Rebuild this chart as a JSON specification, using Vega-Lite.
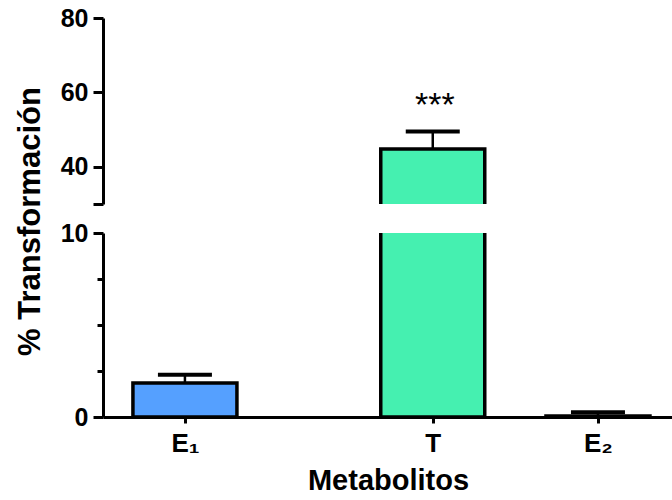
{
  "$schema": "https://vega.github.io/schema/vega-lite/v6.json",
  "padding": {"left": 14, "top": 6, "right": 0, "bottom": 0},
  "background": "white",
  "bounds": "flush",
  "config": {
    "view": {"stroke": null},
    "font": "Liberation Sans",
    "axis": {
      "domainColor": "black",
      "domainWidth": 3,
      "tickColor": "black",
      "tickWidth": 3,
      "labelColor": "black",
      "labelFont": "Liberation Sans",
      "labelFontWeight": "bold",
      "titleColor": "black",
      "titleFont": "Liberation Sans",
      "titleFontWeight": "bold",
      "grid": false
    }
  },
  "data": {
    "values": [
      {"met": "E₁", "mean": 1.85, "upper": 2.3, "sig": ""},
      {"met": "T", "mean": 44.8, "upper": 49.5, "sig": "***"},
      {"met": "E₂", "mean": 0.05, "upper": 0.26, "sig": ""}
    ]
  },
  "spacing": 29,
  "resolve": {"scale": {"x": "shared"}},
  "vconcat": [
    {
      "width": 570,
      "height": 186,
      "encoding": {
        "x": {
          "field": "met",
          "type": "nominal",
          "scale": {"type": "point", "domain": ["E₁", "gap1", "gap2", "T", "gap3", "E₂"], "padding": 0.95, "align": 0.522},
          "axis": null
        }
      },
      "layer": [
        {
          "mark": {"type": "rule", "color": "black", "strokeWidth": 2.5, "clip": true},
          "encoding": {
            "y": {"field": "mean", "type": "quantitative", "scale": {"domain": [30, 80], "nice": false, "zero": false},
              "axis": {
                "values": [30, 40, 60, 80],
                "labelExpr": "datum.value == 30 ? '' : datum.label",
                "tickSize": 10,
                "labelFontSize": 25,
                "labelPadding": 5,
                "title": null
              }
            },
            "y2": {"field": "upper"}
          }
        },
        {
          "mark": {"type": "bar", "width": 104, "stroke": "black", "strokeWidth": 3.5, "clip": true},
          "encoding": {
            "y": {"field": "mean", "type": "quantitative"},
            "fill": {"field": "met", "type": "nominal", "scale": {"domain": ["E₁", "T", "E₂"], "range": ["#55A0FF", "#45F0B0", "#7f7f7f"]}, "legend": null}
          }
        },
        {
          "mark": {"type": "tick", "color": "black", "size": 54, "thickness": 4, "clip": true, "opacity": 1},
          "encoding": {"y": {"field": "upper", "type": "quantitative"}}
        },
        {
          "mark": {"type": "text", "fontSize": 34, "baseline": "alphabetic", "dy": -15, "dx": 2, "color": "black", "font": "Liberation Sans"},
          "encoding": {
            "y": {"field": "upper", "type": "quantitative"},
            "text": {"field": "sig"}
          }
        }
      ]
    },
    {
      "width": 570,
      "height": 184,
      "encoding": {
        "x": {
          "field": "met",
          "type": "nominal",
          "scale": {"type": "point", "domain": ["E₁", "gap1", "gap2", "T", "gap3", "E₂"], "padding": 0.95, "align": 0.522},
          "axis": {
            "values": ["E₁", "T", "E₂"],
            "labelAngle": 0,
            "tickSize": 6,
            "labelFontSize": 26,
            "labelPadding": 7,
            "title": "Metabolitos",
            "titleFontSize": 29,
            "titlePadding": 10
          }
        }
      },
      "layer": [
        {
          "mark": {"type": "rule", "color": "black", "strokeWidth": 2.5, "clip": true},
          "encoding": {
            "y": {"field": "mean", "type": "quantitative", "scale": {"domain": [0, 10], "nice": false},
              "axis": {
                "values": [0, 2.5, 5, 7.5, 10],
                "labelExpr": "datum.value == 0 || datum.value == 10 ? datum.label : ''",
                "tickSize": {"condition": {"test": "datum.value == 0 || datum.value == 10", "value": 10}, "value": 6},
                "labelFontSize": 25,
                "labelPadding": 5,
                "title": "% Transformación",
                "titleFontSize": 31,
                "titleY": -12,
                "titlePadding": 14
              }
            },
            "y2": {"field": "upper"}
          }
        },
        {
          "mark": {"type": "bar", "width": 104, "stroke": "black", "strokeWidth": 3.5, "clip": true},
          "encoding": {
            "y": {"field": "mean", "type": "quantitative"},
            "fill": {"field": "met", "type": "nominal", "scale": {"domain": ["E₁", "T", "E₂"], "range": ["#55A0FF", "#45F0B0", "#7f7f7f"]}, "legend": null}
          }
        },
        {
          "mark": {"type": "tick", "color": "black", "size": 54, "thickness": 4, "clip": true, "opacity": 1},
          "encoding": {"y": {"field": "upper", "type": "quantitative"}}
        }
      ]
    }
  ]
}
